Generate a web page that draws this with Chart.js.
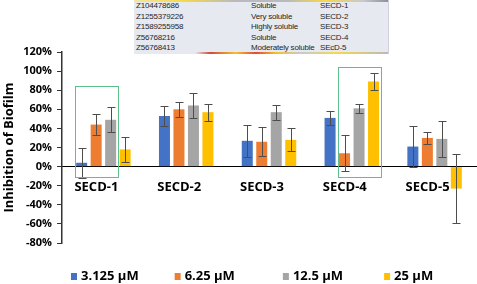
<!DOCTYPE html>
<html>
<head>
<meta charset="utf-8">
<script src="https://cdn.jsdelivr.net/npm/chart.js@4.4.0/dist/chart.umd.min.js"></script>
<style>
  body { margin: 0; background: #fff; }
  #wrap { position: relative; width: 477px; height: 284px; }
  #tabla {
    position: absolute; left: 134px; top: 0; width: 254px; height: 54px;
    background: #e7e9f0; border-right: 1px solid #cfd2da;
    font-family: "Liberation Sans", sans-serif; font-size: 8px; letter-spacing: -0.2px; color: #262626;
  }
  #tabla .franja { position: absolute; left: 0; width: 100%; height: 2px; }
  #tabla .arriba { top: 0; background: linear-gradient(90deg, #f2e6a0 0%, #f5d94a 20%, #b9b9bf 40%, #b9b9bf 60%, #f5d94a 75%, #c9c9cf 90%, #8f8f99 100%); }
  #tabla .abajo { top: 52px; background: linear-gradient(90deg, #e7e9f0 0%, #e7e9f0 24%, #d04a3a 30%, #f2c12e 40%, #e04a3a 48%, #f2c12e 56%, #c9c9cf 66%, #f5d94a 80%, #b9b9bf 100%); }
  #tabla .fila { position: absolute; left: 0; width: 100%; height: 10px; line-height: 10px; }
  #tabla .fila span { position: absolute; white-space: nowrap; }
</style>
</head>
<body>
<div id="wrap">
  <canvas id="grafico" width="477" height="284"></canvas>
  <div id="tabla"></div>
</div>
<script>
// Datos
const categorias = ['SECD-1', 'SECD-2', 'SECD-3', 'SECD-4', 'SECD-5'];
const concentraciones = ['3.125 µM', '6.25 µM', '12.5 µM', '25 µM'];
const colores = ['#4472C4', '#ED7D31', '#A5A5A5', '#FFC000'];

// % de inhibicion
const c3125 = [4, 53, 27, 51, 21];
const c625 = [44, 60, 26, 14, 30];
const c125 = [49, 64, 57, 61, 29];
const c25 = [18, 57, 28, 89, -23];

// desviaciones
const e3125 = [16, 10, 17, 7, 21];
const e625 = [11, 8, 15, 19, 6];
const e125 = [13, 13, 8, 5, 19];
const e25 = [13, 9, 12, 9, 36];

const valores = [c3125, c625, c125, c25];
const errores = [e3125, e625, e125, e25];

// tabla pegada arriba
const codigos = ['Z104478686', 'Z1255379226', 'Z1589255958', 'Z56768216', 'Z56768413'];
const solubilidad = ['Soluble', 'Very soluble', 'Highly soluble', 'Soluble', 'Moderately soluble'];
const compuestos = ['SECD-1', 'SECD-2', 'SECD-3', 'SECD-4', 'SEcD-5'];

// recuadros verdes: categoria, primera y ultima barra, limites en %
const recuadros = [
    { cat: 0, desde: 0, hasta: 2, max: 84, min: -10.5 },
    { cat: 3, desde: 1, hasta: 3, max: 104, min: -11 }
];

const fuente = '"Open Sans", sans-serif';
const separacionLeyenda = [36, 48, 41];

//Tabla
const tabla = document.querySelector('#tabla');
tabla.innerHTML = '<div class="franja arriba"></div><div class="franja abajo"></div>';
codigos.forEach((cod, i) => {
    const fila = document.createElement('div');
    fila.classList.add('fila');
    fila.style.top = (1 + i * 10.5) + 'px';
    fila.innerHTML = `
        <span style="left:2px">${cod}</span>
        <span style="left:117px">${solubilidad[i]}</span>
        <span style="left:186px">${compuestos[i]}</span>
    `;
    tabla.appendChild(fila);
});

//Plugins
const barrasError = {
    id: 'barrasError',
    afterDatasetsDraw(chart) {
        const ctx = chart.ctx;
        const y = chart.scales.y;
        ctx.save();
        ctx.strokeStyle = '#4d4d4d';
        ctx.lineWidth = 1;
        chart.data.datasets.forEach((ds, i) => {
            chart.getDatasetMeta(i).data.forEach((bar, j) => {
                const v = ds.data[j];
                const e = errores[i][j];
                const arriba = Math.round(y.getPixelForValue(v + e)) + 0.5;
                const abajo = Math.round(y.getPixelForValue(v - e)) + 0.5;
                const x = Math.round(bar.x) + 0.5;
                ctx.beginPath();
                ctx.moveTo(x, arriba); ctx.lineTo(x, abajo);
                ctx.moveTo(x - 4, arriba); ctx.lineTo(x + 4, arriba);
                ctx.moveTo(x - 4, abajo); ctx.lineTo(x + 4, abajo);
                ctx.stroke();
            });
        });
        ctx.restore();
    }
};

const marcos = {
    id: 'marcos',
    afterDatasetsDraw(chart) {
        const ctx = chart.ctx;
        const y = chart.scales.y;
        ctx.save();
        ctx.strokeStyle = '#5cbf8c';
        ctx.lineWidth = 1;
        recuadros.forEach(r => {
            const b1 = chart.getDatasetMeta(r.desde).data[r.cat];
            const b2 = chart.getDatasetMeta(r.hasta).data[r.cat];
            const x1 = Math.round(b1.x - b1.width / 2 - 1) + 0.5;
            const x2 = Math.round(b2.x + b2.width / 2 + 2) + 0.5;
            const y1 = Math.round(y.getPixelForValue(r.max)) + 0.5;
            const y2 = Math.round(y.getPixelForValue(r.min)) + 0.5;
            ctx.strokeRect(x1, y1, x2 - x1, y2 - y1);
        });
        ctx.restore();
    }
};

const leyenda = {
    id: 'leyenda',
    afterDraw(chart) {
        const ctx = chart.ctx;
        ctx.save();
        ctx.font = 'bold 13px ' + fuente;
        ctx.textBaseline = 'middle';
        let x = chart.chartArea.left + 9;
        const yc = 276;
        chart.data.datasets.forEach((ds, i) => {
            ctx.fillStyle = ds.backgroundColor;
            ctx.fillRect(x, yc - 3, 6, 7);
            ctx.fillStyle = '#000';
            ctx.fillText(ds.label, x + 10, yc);
            x += 10 + ctx.measureText(ds.label).width + (separacionLeyenda[i] || 0);
        });
        ctx.restore();
    }
};

//Grafico
const grafico = document.querySelector('#grafico');

const config = {
    type: 'bar',
    data: {
        labels: categorias,
        datasets: concentraciones.map((c, i) => ({
            label: c,
            data: valores[i],
            backgroundColor: colores[i],
            categoryPercentage: 0.7,
            barPercentage: 0.76
        }))
    },
    options: {
        responsive: false,
        animation: false,
        layout: {
            padding: { top: 52, right: 1, bottom: 41, left: 0 }
        },
        plugins: {
            legend: { display: false },
            tooltip: { enabled: false }
        },
        scales: {
            x: {
                position: { y: 0 },
                grid: { display: false, drawTicks: false },
                border: { color: '#000', width: 1 },
                ticks: {
                    color: '#000',
                    padding: 13,
                    labelOffset: -7,
                    font: { family: fuente, size: 13, weight: 'bold' }
                }
            },
            y: {
                min: -80,
                max: 120,
                afterFit: scale => { scale.width = 62; },
                grid: { drawOnChartArea: false, tickLength: 5, color: '#333' },
                border: { color: '#333', width: 1.5 },
                ticks: {
                    stepSize: 20,
                    padding: 5,
                    color: '#000',
                    font: { family: fuente, size: 11, weight: 'bold' },
                    callback: v => v + '%'
                },
                title: {
                    display: true,
                    text: 'Inhibition of Biofilm',
                    color: '#000',
                    padding: { top: 1, bottom: 0 },
                    font: { family: fuente, size: 13, weight: 'bold' }
                }
            }
        }
    },
    plugins: [barrasError, marcos, leyenda]
};

new Chart(grafico, config);
</script>
</body>
</html>
